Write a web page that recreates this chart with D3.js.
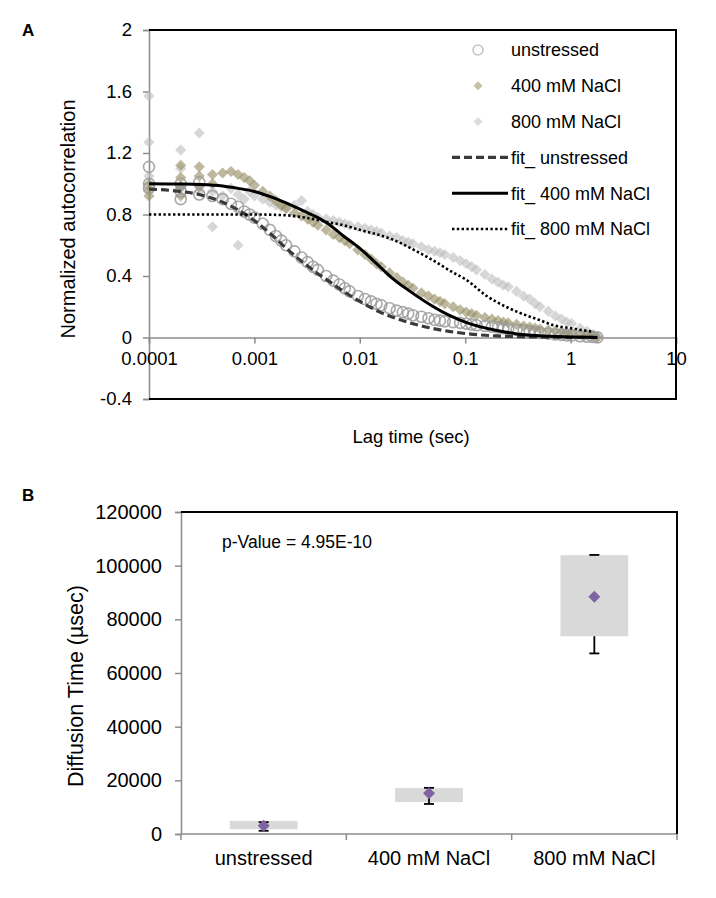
<!DOCTYPE html>
<html><head><meta charset="utf-8">
<script src="https://cdn.jsdelivr.net/npm/d3@7"></script>
<style>
body{margin:0;background:#fff}
text{font-family:"Liberation Sans",Arial,Helvetica,sans-serif;fill:#000}
</style>
</head><body>
<svg id="c" width="716" height="898"></svg>
<script>
// ---------------- Panel A data ----------------
const xTickValuesA = [1e-4, 1e-3, 1e-2, 1e-1, 1, 10];
const xTickLabelsA = ["0.0001", "0.001", "0.01", "0.1", "1", "10"];
const yTickValuesA = [-0.4, 0, 0.4, 0.8, 1.2, 1.6, 2];
const yTickLabelsA = ["-0.4", "0", "0.4", "0.8", "1.2", "1.6", "2"];

const lagUnstressed = [1e-4,1e-4,1e-4,2e-4,2e-4,2e-4,3e-4,3e-4,
  4e-4,5e-4,6e-4,7e-4,8e-4,9e-4,1e-3,
  1.2e-3,1.4e-3,1.6e-3,1.8e-3,2e-3, 2.4e-3,2.8e-3,3.2e-3,3.6e-3,4e-3,
  4.8e-3,5.6e-3,6.4e-3,7.2e-3,8e-3, 9.6e-3,0.0112,0.0128,0.0144,0.016,
  0.0192,0.0224,0.0256,0.0288,0.032, 0.0384,0.0448,0.0512,0.0576,0.064,
  0.0768,0.0896,0.1024,0.1152,0.128, 0.1536,0.1792,0.2048,0.2304,0.256,
  0.3072,0.3584,0.4096,0.4608,0.512, 0.6144,0.7168,0.8192,0.9216,1.024,
  1.2288,1.4336,1.6384,1.8];
const gUnstressed = [1.11,1.0,0.97,1.0,0.95,0.9,1.01,0.93,
  0.92,0.9,0.87,0.85,0.82,0.80,0.78,
  0.74,0.70,0.66,0.63,0.60, 0.56,0.52,0.49,0.46,0.44,
  0.40,0.37,0.345,0.32,0.30, 0.27,0.25,0.235,0.22,0.21,
  0.19,0.175,0.165,0.155,0.145, 0.135,0.125,0.115,0.11,0.105,
  0.1,0.095,0.09,0.085,0.08, 0.075,0.07,0.065,0.06,0.055,
  0.05,0.045,0.04,0.035,0.03, 0.025,0.02,0.017,0.014,0.012,
  0.008,0.005,0.003,0.001];

const lag400 = [1e-4,1e-4,1e-4,2e-4,2e-4,2e-4,2e-4,3e-4,3e-4,3e-4,4e-4,4e-4,
  5e-4,6e-4,7e-4,8e-4,9e-4,1e-3,
  1.2e-3,1.4e-3,1.6e-3,1.8e-3,2e-3, 2.4e-3,2.8e-3,3.2e-3,3.6e-3,4e-3,
  4.8e-3,5.6e-3,6.4e-3,7.2e-3,8e-3, 9.6e-3,0.0112,0.0128,0.0144,0.016,
  0.0192,0.0224,0.0256,0.0288,0.032, 0.0384,0.0448,0.0512,0.0576,0.064,
  0.0768,0.0896,0.1024,0.1152,0.128, 0.1536,0.1792,0.2048,0.2304,0.256,
  0.3072,0.3584,0.4096,0.4608,0.512, 0.6144,0.7168,0.8192,0.9216,1.024,
  1.2288,1.4336,1.6384,1.8];
const g400 = [1.0,0.96,0.92,1.12,1.04,0.98,0.92,1.11,1.05,0.98,1.06,1.0,
  1.07,1.08,1.06,1.04,1.02,0.99,
  0.95,0.92,0.89,0.86,0.84, 0.81,0.79,0.77,0.75,0.73,
  0.70,0.67,0.65,0.63,0.61, 0.57,0.54,0.51,0.48,0.46,
  0.42,0.39,0.36,0.34,0.32, 0.29,0.27,0.25,0.235,0.22,
  0.2,0.18,0.165,0.155,0.145, 0.13,0.12,0.11,0.1,0.095,
  0.085,0.075,0.068,0.062,0.055, 0.048,0.042,0.037,0.032,0.028,
  0.02,0.012,0.006,0.0];

const lag800 = [1e-4,1e-4,1e-4,2e-4,2e-4,2e-4,3e-4,3e-4,4e-4,4e-4,
  5e-4,6e-4,7e-4,7e-4,8e-4,9e-4,1e-3,
  1.2e-3,1.4e-3,1.6e-3,1.8e-3,2e-3, 2.4e-3,2.8e-3,3.2e-3,3.6e-3,4e-3,
  4.8e-3,5.6e-3,6.4e-3,7.2e-3,8e-3, 9.6e-3,0.0112,0.0128,0.0144,0.016,
  0.0192,0.0224,0.0256,0.0288,0.032, 0.0384,0.0448,0.0512,0.0576,0.064,
  0.0768,0.0896,0.1024,0.1152,0.128, 0.1536,0.1792,0.2048,0.2304,0.256,
  0.3072,0.3584,0.4096,0.4608,0.512, 0.6144,0.7168,0.8192,0.9216,1.024,
  1.2288,1.4336,1.6384,1.8];
const g800 = [1.57,1.27,1.05,1.22,1.1,0.97,1.33,0.95,0.72,0.95,
  0.92,0.97,0.6,0.93,0.9,0.95,0.92,
  0.9,0.88,0.86,0.85,0.84, 0.86,0.89,0.82,0.8,0.78,
  0.77,0.76,0.75,0.74,0.73, 0.72,0.71,0.7,0.69,0.68,
  0.66,0.65,0.63,0.62,0.61, 0.59,0.57,0.56,0.55,0.54,
  0.52,0.5,0.48,0.46,0.44, 0.41,0.38,0.36,0.34,0.33,
  0.3,0.27,0.25,0.22,0.2, 0.17,0.14,0.12,0.1,0.09,
  0.06,0.04,0.02,0.005];

const lagFitUnstressed = [1e-4,2e-4,3e-4,5e-4,7e-4,1e-3,1.5e-3,2e-3,3e-3,4e-3,5e-3,7e-3,1e-2,1.5e-2,2e-2,3e-2,5e-2,7e-2,0.1,0.2,0.3,0.5,1,1.8];
const fitUnstressed = [0.965,0.95,0.93,0.88,0.83,0.76,0.66,0.58,0.48,0.415,0.37,0.30,0.235,0.17,0.135,0.095,0.058,0.04,0.026,0.01,0.006,0.003,0.001,0];
const lagFit400 = [1e-4,2e-4,3e-4,5e-4,7e-4,1e-3,1.5e-3,2e-3,3e-3,4e-3,5e-3,7e-3,1e-2,1.5e-2,2e-2,3e-2,5e-2,7e-2,0.1,0.2,0.3,0.5,1,1.8];
const fit400 = [1.0,0.998,0.995,0.985,0.97,0.95,0.91,0.875,0.82,0.78,0.74,0.66,0.58,0.47,0.39,0.30,0.20,0.145,0.10,0.045,0.025,0.012,0.004,0];
const lagFit800 = [1e-4,1e-3,2e-3,3e-3,5e-3,7e-3,1e-2,2e-2,3.7e-2,5e-2,7.8e-2,0.1,0.16,0.2,0.33,0.5,0.69,1,1.66];
const fit800 = [0.80,0.80,0.795,0.78,0.75,0.73,0.70,0.64,0.55,0.50,0.42,0.38,0.27,0.23,0.16,0.115,0.08,0.06,0.037];

const legendLabelsA = ["unstressed", "400 mM NaCl", "800 mM NaCl", "fit_ unstressed", "fit_ 400 mM NaCl", "fit_ 800 mM NaCl"];

// ---------------- Panel B data ----------------
const categoriesB = ["unstressed", "400 mM NaCl", "800 mM NaCl"];
const boxLowB = [1800, 11900, 73700];
const boxHighB = [4900, 17100, 103900];
const meanB = [3100, 15200, 88400];
const whiskerLowFromB = [3100, 15200, 73700];
const whiskerLowB = [1200, 11200, 67300];
const whiskerHighFromB = [3100, 15200, 103900];
const whiskerHighB = [4400, 17200, 104000];
const yTickValuesB = [0, 20000, 40000, 60000, 80000, 100000, 120000];
const yTickLabelsB = ["0", "20000", "40000", "60000", "80000", "100000", "120000"];

// ---------------- Drawing ----------------
const svg = d3.select("#c");
const gray = "#8c8c8c";

// ===== Panel A =====
const xA = d3.scaleLog().domain([1e-4, 10]).range([149, 676]);
const yA = d3.scaleLinear().domain([-0.4, 2]).range([399, 30]);
const gA = svg.append("g");

// left axis
const leftA = d3.axisLeft(yA).tickValues(yTickValuesA).tickSize(6).tickPadding(11)
  .tickFormat((d, i) => yTickLabelsA[i]);
const la = gA.append("g").attr("transform", `translate(${xA.range()[0]},0)`).call(leftA);
la.select(".domain").attr("stroke", gray).attr("stroke-width", 1.5);
la.selectAll(".tick line").attr("stroke", gray).attr("stroke-width", 1.5);
la.selectAll(".tick text").attr("font-size", 18.5).attr("font-family", "Liberation Sans, Arial, sans-serif").attr("fill", "#000");

// zero axis
const bottomA = d3.axisBottom(xA).tickValues(xTickValuesA).tickSize(6).tickPadding(8)
  .tickFormat((d, i) => xTickLabelsA[i]);
const ba = gA.append("g").attr("transform", `translate(0,${yA(0)})`).call(bottomA);
ba.select(".domain").attr("stroke", gray).attr("stroke-width", 1.5);
ba.selectAll(".tick line").attr("stroke", gray).attr("stroke-width", 1.5);
ba.selectAll(".tick text").attr("font-size", 18.5).attr("font-family", "Liberation Sans, Arial, sans-serif").attr("fill", "#000");

// frame (top, right, bottom)
gA.append("path")
  .attr("d", `M${xA.range()[0]},${yA(2)}H${xA.range()[1]}V${yA(-0.4)}H${xA.range()[0]}`)
  .attr("fill", "none").attr("stroke", "#000").attr("stroke-width", 2);

// data markers
const diamond = d3.symbol().type(d3.symbolSquare).size(62);
function diamonds(lag, vals, fill, op) {
  gA.append("g").selectAll("path").data(lag.map((t, i) => [t, vals[i]])).join("path")
    .attr("d", diamond)
    .attr("transform", d => `translate(${xA(d[0])},${yA(d[1])}) rotate(45)`)
    .attr("fill", fill).attr("fill-opacity", op);
}
diamonds(lag800, g800, "#bdbdbd", 0.6);
diamonds(lag400, g400, "#958d62", 0.62);
gA.append("g").selectAll("circle").data(lagUnstressed.map((t, i) => [t, gUnstressed[i]])).join("circle")
  .attr("cx", d => xA(d[0])).attr("cy", d => yA(d[1])).attr("r", 5.5)
  .attr("fill", "none").attr("stroke", "#9a9a9a").attr("stroke-width", 1.6).attr("stroke-opacity", 0.85);

// fits
const lineA = d3.line().x(d => xA(d[0])).y(d => yA(d[1])).curve(d3.curveMonotoneX);
const fitStyles = [
  {lag: lagFitUnstressed, v: fitUnstressed, color: "#3a3a3a", w: 3.2, dash: "8,4"},
  {lag: lagFit400, v: fit400, color: "#000", w: 3, dash: null},
  {lag: lagFit800, v: fit800, color: "#000", w: 2.6, dash: "2.4,2.4"}
];
fitStyles.forEach(f => {
  gA.append("path").datum(f.lag.map((t, i) => [t, f.v[i]]))
    .attr("d", lineA).attr("fill", "none").attr("stroke", f.color)
    .attr("stroke-width", f.w).attr("stroke-dasharray", f.dash);
});

// legend
const legY = d3.scalePoint().domain(legendLabelsA).range([50, 229]);
const leg = gA.append("g");
legendLabelsA.forEach((lab, i) => {
  const y = legY(lab);
  leg.append("text").attr("x", 511).attr("y", y).attr("dy", "0.35em")
    .attr("font-size", 18).text(lab);
});
leg.append("circle").attr("cx", 478).attr("cy", legY(legendLabelsA[0])).attr("r", 5)
  .attr("fill", "none").attr("stroke", "#c4c4c4").attr("stroke-width", 1.5);
leg.append("path").attr("d", d3.symbol().type(d3.symbolSquare).size(40))
  .attr("transform", `translate(478,${legY(legendLabelsA[1])}) rotate(45)`).attr("fill", "#c6c1a2");
leg.append("path").attr("d", d3.symbol().type(d3.symbolSquare).size(40))
  .attr("transform", `translate(478,${legY(legendLabelsA[2])}) rotate(45)`).attr("fill", "#dcdcdc");
fitStyles.forEach((f, i) => {
  const y = legY(legendLabelsA[3 + i]);
  leg.append("line").attr("x1", 452).attr("x2", 508).attr("y1", y).attr("y2", y)
    .attr("stroke", f.color).attr("stroke-width", f.w).attr("stroke-dasharray", f.dash);
});

// titles
gA.append("text").attr("transform", "translate(68,219) rotate(-90)")
  .attr("text-anchor", "middle").attr("dy", "0.35em").attr("font-size", 20).text("Normalized autocorrelation");
gA.append("text").attr("x", 411).attr("y", 437).attr("dy", "0.35em")
  .attr("text-anchor", "middle").attr("font-size", 18.5).text("Lag time (sec)");
svg.append("text").attr("x", 22).attr("y", 30).attr("dy", "0.35em")
  .attr("font-size", 17).attr("font-weight", "bold").text("A");

// ===== Panel B =====
const xB = d3.scaleBand().domain(categoriesB).range([181, 677]);
const yB = d3.scaleLinear().domain([0, 120000]).range([834, 512]);
const gB = svg.append("g");

const leftB = d3.axisLeft(yB).tickValues(yTickValuesB).tickSize(6).tickPadding(13)
  .tickFormat((d, i) => yTickLabelsB[i]);
const lb = gB.append("g").attr("transform", `translate(${xB.range()[0]},0)`).call(leftB);
lb.select(".domain").attr("stroke", gray).attr("stroke-width", 1.5);
lb.selectAll(".tick line").attr("stroke", gray).attr("stroke-width", 1.5);
lb.selectAll(".tick text").attr("font-size", 20).attr("font-family", "Liberation Sans, Arial, sans-serif").attr("fill", "#000");

// bottom axis with ticks at band boundaries
const bb = gB.append("g").attr("transform", `translate(0,${yB(0)})`);
bb.append("line").attr("x1", xB.range()[0]).attr("x2", xB.range()[1])
  .attr("stroke", gray).attr("stroke-width", 1.5);
const boundaries = categoriesB.map(c => xB(c)).concat([xB.range()[1]]);
bb.selectAll("line.tk").data(boundaries).join("line").attr("class", "tk")
  .attr("x1", d => d).attr("x2", d => d).attr("y1", 0).attr("y2", 6)
  .attr("stroke", gray).attr("stroke-width", 1.5);
bb.selectAll("text").data(categoriesB).join("text")
  .attr("x", d => xB(d) + xB.bandwidth() / 2).attr("y", 24).attr("dy", "0.35em")
  .attr("text-anchor", "middle").attr("font-size", 20).text(d => d);

// frame top/right
gB.append("path")
  .attr("d", `M${xB.range()[0]},${yB(120000)}H${xB.range()[1]}V${yB(0)}`)
  .attr("fill", "none").attr("stroke", "#000").attr("stroke-width", 2);

// boxes
const bw = xB.bandwidth() * 0.41;
const cx = c => xB(c) + xB.bandwidth() / 2;
gB.append("g").selectAll("rect").data(categoriesB).join("rect")
  .attr("x", d => cx(d) - bw / 2).attr("width", bw)
  .attr("y", (d, i) => yB(boxHighB[i])).attr("height", (d, i) => yB(boxLowB[i]) - yB(boxHighB[i]))
  .attr("fill", "#d9d9d9");

// whiskers
const wg = gB.append("g").attr("stroke", "#000").attr("stroke-width", 1.8);
categoriesB.forEach((c, i) => {
  const x = cx(c);
  wg.append("line").attr("x1", x).attr("x2", x).attr("y1", yB(whiskerLowFromB[i])).attr("y2", yB(whiskerLowB[i]));
  wg.append("line").attr("x1", x - 5).attr("x2", x + 5).attr("y1", yB(whiskerLowB[i])).attr("y2", yB(whiskerLowB[i]));
  wg.append("line").attr("x1", x).attr("x2", x).attr("y1", yB(whiskerHighFromB[i])).attr("y2", yB(whiskerHighB[i]));
  wg.append("line").attr("x1", x - 5).attr("x2", x + 5).attr("y1", yB(whiskerHighB[i])).attr("y2", yB(whiskerHighB[i]));
});

// mean diamonds
gB.append("g").selectAll("path").data(categoriesB).join("path")
  .attr("d", d3.symbol().type(d3.symbolSquare).size(72))
  .attr("transform", (d, i) => `translate(${cx(d)},${yB(meanB[i])}) rotate(45)`)
  .attr("fill", "#8064a2");

gB.append("text").attr("x", 222).attr("y", 542).attr("dy", "0.35em")
  .attr("font-size", 17.5).text("p-Value = 4.95E-10");

gB.append("text").attr("transform", "translate(75,686) rotate(-90)")
  .attr("text-anchor", "middle").attr("dy", "0.35em").attr("font-size", 21.5).text("Diffusion Time (µsec)");
svg.append("text").attr("x", 22).attr("y", 495).attr("dy", "0.35em")
  .attr("font-size", 17).attr("font-weight", "bold").text("B");
</script>
</body></html>
